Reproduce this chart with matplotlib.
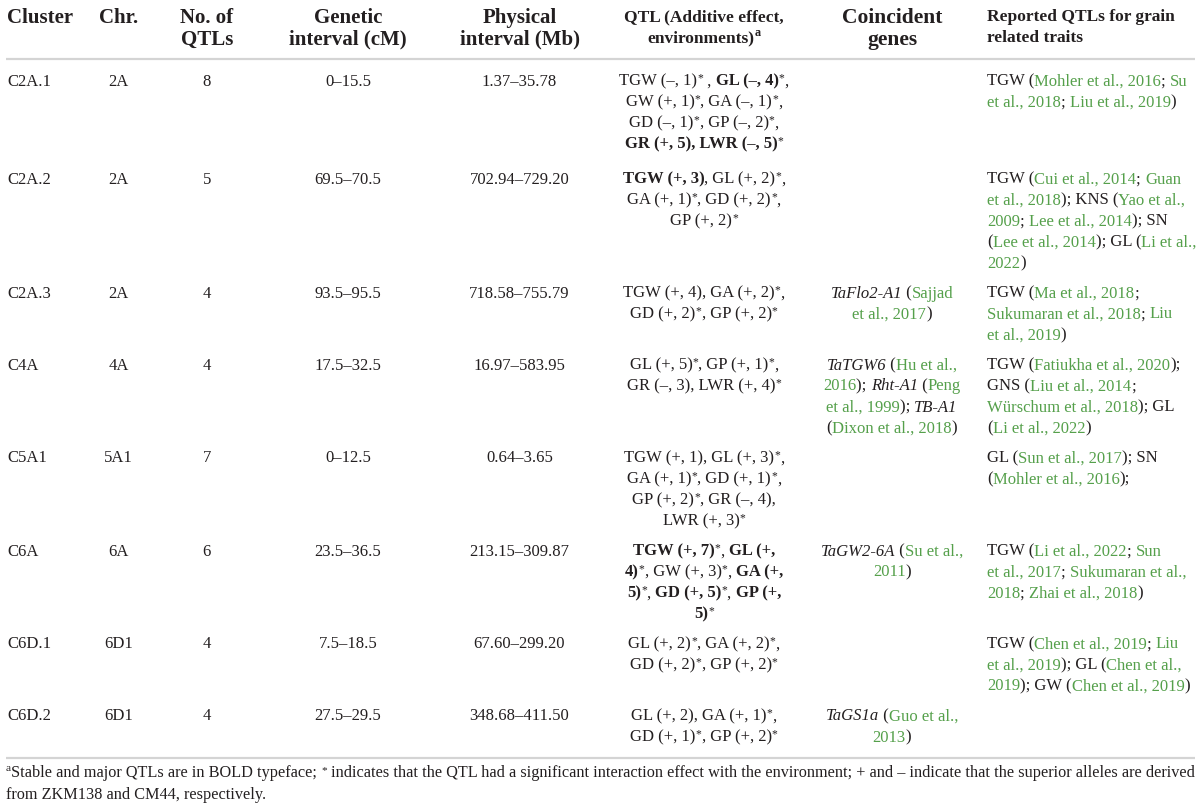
import re
import matplotlib
matplotlib.use('Agg')
import matplotlib.pyplot as plt

plt.rcParams['font.family'] = ['Liberation Serif', 'DejaVu Serif']

INK = '#231f20'
GREEN = '#55a04b'
RULE = '#d4d4d4'

# 表头 (<sup> 上标, <b> 粗体, <i> 斜体, <g> 绿色引用)
headers = [
    ['Cluster'],
    ['Chr.'],
    ['No. of', 'QTLs'],
    ['Genetic', 'interval (cM)'],
    ['Physical', 'interval (Mb)'],
    ['QTL (Additive effect,', 'environments)<sup>a</sup>'],
    ['Coincident', 'genes'],
    ['Reported QTLs for grain', 'related traits'],
]

clusters = ['C2A.1', 'C2A.2', 'C2A.3', 'C4A', 'C5A1', 'C6A', 'C6D.1', 'C6D.2']
chromosomes = ['2A', '2A', '2A', '4A', '5A1', '6A', '6D1', '6D1']
n_qtls = [8, 5, 4, 4, 7, 6, 4, 4]
genetic_interval = ['0–15.5', '69.5–70.5', '93.5–95.5', '17.5–32.5',
                    '0–12.5', '23.5–36.5', '7.5–18.5', '27.5–29.5']
physical_interval = ['1.37–35.78', '702.94–729.20', '718.58–755.79', '16.97–583.95',
                     '0.64–3.65', '213.15–309.87', '67.60–299.20', '348.68–411.50']

qtl_effects = [
    ['TGW (–, 1)* , <b>GL (–, 4)</b>*,', 'GW (+, 1)*, GA (–, 1)*,',
     'GD (–, 1)*, GP (–, 2)*,', '<b>GR (+, 5), LWR (–, 5)</b>*'],
    ['<b>TGW (+, 3)</b>, GL (+, 2)*,', 'GA (+, 1)*, GD (+, 2)*,', 'GP (+, 2)*'],
    ['TGW (+, 4), GA (+, 2)*,', 'GD (+, 2)*, GP (+, 2)*'],
    ['GL (+, 5)*, GP (+, 1)*,', 'GR (–, 3), LWR (+, 4)*'],
    ['TGW (+, 1), GL (+, 3)*,', 'GA (+, 1)*, GD (+, 1)*,',
     'GP (+, 2)*, GR (–, 4),', 'LWR (+, 3)*'],
    ['<b>TGW (+, 7)</b>*, <b>GL (+,</b>', '<b>4)</b>*, GW (+, 3)*, <b>GA (+,</b>',
     '<b>5)</b>*, <b>GD (+, 5)</b>*, <b>GP (+,</b>', '<b>5)</b>*'],
    ['GL (+, 2)*, GA (+, 2)*,', 'GD (+, 2)*, GP (+, 2)*'],
    ['GL (+, 2), GA (+, 1)*,', 'GD (+, 1)*, GP (+, 2)*'],
]

coincident_genes = [
    [],
    [],
    ['<i>TaFlo2-A1</i> (<g>Sajjad</g>', '<g>et al., 2017</g>)'],
    ['<i>TaTGW6</i> (<g>Hu et al.,</g>', '<g>2016</g>); <i>Rht-A1</i> (<g>Peng</g>',
     '<g>et al., 1999</g>); <i>TB-A1</i>', '(<g>Dixon et al., 2018</g>)'],
    [],
    ['<i>TaGW2-6A</i> (<g>Su et al.,</g>', '<g>2011</g>)'],
    [],
    ['<i>TaGS1a</i> (<g>Guo et al.,</g>', '<g>2013</g>)'],
]

reported_qtls = [
    ['TGW (<g>Mohler et al., 2016</g>; <g>Su</g>', '<g>et al., 2018</g>; <g>Liu et al., 2019</g>)'],
    ['TGW (<g>Cui et al., 2014</g>; <g>Guan</g>', '<g>et al., 2018</g>); KNS (<g>Yao et al.,</g>',
     '<g>2009</g>; <g>Lee et al., 2014</g>); SN', '(<g>Lee et al., 2014</g>); GL (<g>Li et al.,</g>',
     '<g>2022</g>)'],
    ['TGW (<g>Ma et al., 2018</g>;', '<g>Sukumaran et al., 2018</g>; <g>Liu</g>', '<g>et al., 2019</g>)'],
    ['TGW (<g>Fatiukha et al., 2020</g>);', 'GNS (<g>Liu et al., 2014</g>;',
     '<g>Würschum et al., 2018</g>); GL', '(<g>Li et al., 2022</g>)'],
    ['GL (<g>Sun et al., 2017</g>); SN', '(<g>Mohler et al., 2016</g>);'],
    ['TGW (<g>Li et al., 2022</g>; <g>Sun</g>', '<g>et al., 2017</g>; <g>Sukumaran et al.,</g>',
     '<g>2018</g>; <g>Zhai et al., 2018</g>)'],
    ['TGW (<g>Chen et al., 2019</g>; <g>Liu</g>', '<g>et al., 2019</g>); GL (<g>Chen et al.,</g>',
     '<g>2019</g>); GW (<g>Chen et al., 2019</g>)'],
    [],
]

footnote = [
    '<sup>a</sup>Stable and major QTLs are in BOLD typeface; * indicates that the QTL had a '
    'significant interaction effect with the environment; + and – indicate that the superior '
    'alleles are derived',
    'from ZKM138 and CM44, respectively.',
]

# 版面
W, H = 1200, 811
fig = plt.figure(figsize=(W / 100, H / 100), dpi=100)
ax = fig.add_axes([0, 0, 1, 1])
ax.set_xlim(0, W)
ax.set_ylim(H, 0)
ax.axis('off')
renderer = fig.canvas.get_renderer()

col_x = [7, 118.5, 206.7, 348, 519.5, 704, 892, 987]
col_ha = ['left', 'center', 'center', 'center', 'center', 'center', 'center', 'left']
head_size = [15, 15, 15, 15, 15, 12.5, 15.5, 12.5]
BODY = 12
LINE = 21

TAG = re.compile(r'(</?(?:b|i|g|sup)>|\*)')


def parse(line):
    st = {'b': False, 'i': False, 'g': False, 'sup': False}
    segs = []
    for tok in TAG.split(line):
        if not tok:
            continue
        m = re.fullmatch(r'<(/?)(b|i|g|sup)>', tok)
        if m:
            st[m.group(2)] = m.group(1) == ''
        elif tok == '*':
            segs.append((tok, st['b'], st['i'], st['g'], 'star'))
        else:
            segs.append((tok, st['b'], st['i'], st['g'], 'sup' if st['sup'] else None))
    return segs


def measure(txt, kw):
    t = ax.text(0, 0, '|' + txt + '|', **kw)
    w = t.get_window_extent(renderer).width
    t.remove()
    t = ax.text(0, 0, '||', **kw)
    w -= t.get_window_extent(renderer).width
    t.remove()
    return w


def draw_line(line, x, y, size, ha='left', bold=False):
    items = []
    for txt, b, it, g, kind in parse(line):
        s = size * (0.7 if kind else 1)
        kw = dict(fontsize=s, fontweight='bold' if (b or bold) else 'normal',
                  fontstyle='italic' if it else 'normal', color=GREEN if g else INK)
        rise = {None: 0, 'star': 0.22, 'sup': 0.36}[kind] * size * 100 / 72
        items.append((txt, kw, rise, measure(txt, kw)))
    total = sum(it[3] for it in items)
    x0 = x - total / 2 if ha == 'center' else x
    for txt, kw, rise, w in items:
        ax.text(x0, y - rise, txt, ha='left', va='baseline', **kw)
        x0 += w


# 表头
for j, lines in enumerate(headers):
    base = 21 if head_size[j] < 14 else 23
    for k, ln in enumerate(lines):
        draw_line(ln, col_x[j], base + k * 21.5, head_size[j], col_ha[j], bold=True)

ax.plot([6, 1195], [59, 59], color=RULE, lw=1.6, solid_capstyle='butt')

# 表体
y = 80
for i in range(len(clusters)):
    cells = [[clusters[i]], [chromosomes[i]], [str(n_qtls[i])], [genetic_interval[i]],
             [physical_interval[i]], qtl_effects[i], coincident_genes[i], reported_qtls[i]]
    for j, lines in enumerate(cells):
        for k, ln in enumerate(lines):
            draw_line(ln, col_x[j], y + 5.5 + k * LINE, BODY, col_ha[j])
    n = max(len(c) for c in cells)
    y += n * LINE + (14 if i == 0 else 9)

ax.plot([6, 1195], [758, 758], color=RULE, lw=1.6, solid_capstyle='butt')

for k, ln in enumerate(footnote):
    draw_line(ln, 6, 777 + k * 22, 11.7)

fig.savefig('out.png', dpi=100, facecolor='white')
